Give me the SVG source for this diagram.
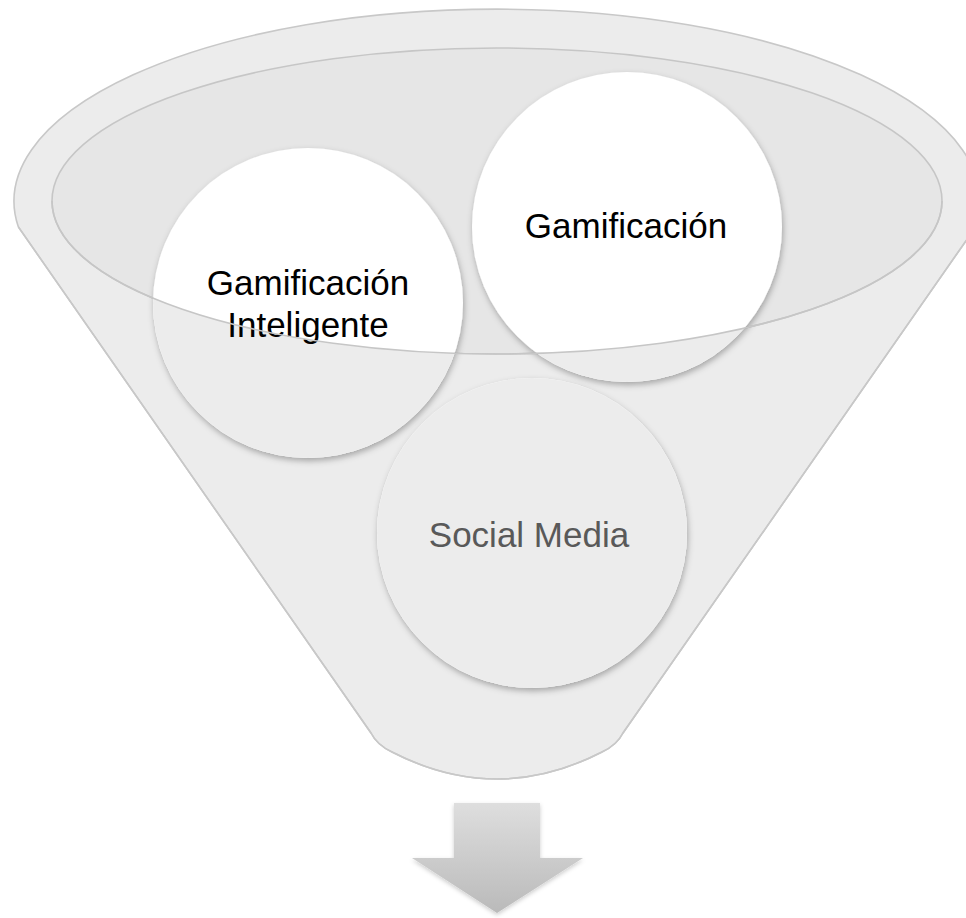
<svg xmlns="http://www.w3.org/2000/svg" width="966" height="918" viewBox="0 0 966 918">
  <style>
    .lbl { font-family: "Liberation Sans", Arial, sans-serif; font-size: 35px; text-anchor: middle; }
    .dark { fill: #000000; }
    .grey { fill: #595959; }
    .rim { fill: none; stroke: #c6c6c6; stroke-width: 1.6; }
    .ball { fill: #ffffff; filter: url(#shadow); }
    .veil { fill: #ebebeb; opacity: 0.94; clip-path: url(#front); }
  </style>
  <defs>
    <filter id="shadow" x="-20%" y="-20%" width="140%" height="140%">
      <feDropShadow dx="1" dy="3" stdDeviation="3" flood-color="#000000" flood-opacity="0.3"/>
    </filter>
    <filter id="ashadow" x="-20%" y="-20%" width="140%" height="140%">
      <feDropShadow dx="0" dy="2" stdDeviation="2" flood-color="#000000" flood-opacity="0.2"/>
    </filter>
    <linearGradient id="agrad" x1="0" y1="0" x2="0" y2="1">
      <stop offset="0" stop-color="#dedede"/>
      <stop offset="1" stop-color="#bababa"/>
    </linearGradient>
    <clipPath id="front">
      <path d="M 52,201 A 445 153 0 0 0 942,201 L 980,201 A 483 192 0 0 1 975.6,227 L 623,733 Q 617,745 602,752 Q 497,806 392,752 Q 377,745 371,733 L 18.4,227 A 483 192 0 0 1 14,201 Z"/>
    </clipPath>
  </defs>

  <g id="funnel">
    <path d="M 18.4,227 A 483 192 0 1 1 975.6,227 L 623,733 Q 617,745 602,752 Q 497,806 392,752 Q 377,745 371,733 Z" fill="#ececec" stroke="#c8c8c8" stroke-width="1.6"/>
    <ellipse cx="497" cy="201" rx="445" ry="153" fill="#e6e6e6" stroke="#c6c6c6" stroke-width="1.6"/>
  </g>

  <g id="node-gamificacion-inteligente">
    <circle class="ball" cx="308" cy="303" r="155"/>
    <circle class="veil" cx="308" cy="303" r="155"/>
    <text class="lbl dark" x="308" y="295">Gamificación</text>
    <text class="lbl dark" x="308" y="337">Inteligente</text>
  </g>

  <g id="node-gamificacion">
    <circle class="ball" cx="627" cy="227" r="155"/>
    <circle class="veil" cx="627" cy="227" r="155"/>
    <text class="lbl dark" x="626" y="238">Gamificación</text>
  </g>

  <g id="node-social-media">
    <circle class="ball" cx="532" cy="533" r="155"/>
    <circle class="veil" cx="532" cy="533" r="155"/>
    <text class="lbl grey" x="529" y="547">Social Media</text>
  </g>

  <g id="funnel-front">
    <path class="rim" d="M 52,201 A 445 153 0 0 0 942,201"/>
    <path d="M 18.4,227 L 371,733 Q 377,745 392,752 Q 497,806 602,752 Q 617,745 623,733 L 975.6,227" fill="none" stroke="#c8c8c8" stroke-width="1.6"/>
  </g>

  <g id="connectors">
    <polygon id="arrow" points="454,803 540,803 540,858 583,858 497,913 412,858 454,858" fill="url(#agrad)" filter="url(#ashadow)"/>
  </g>
</svg>
